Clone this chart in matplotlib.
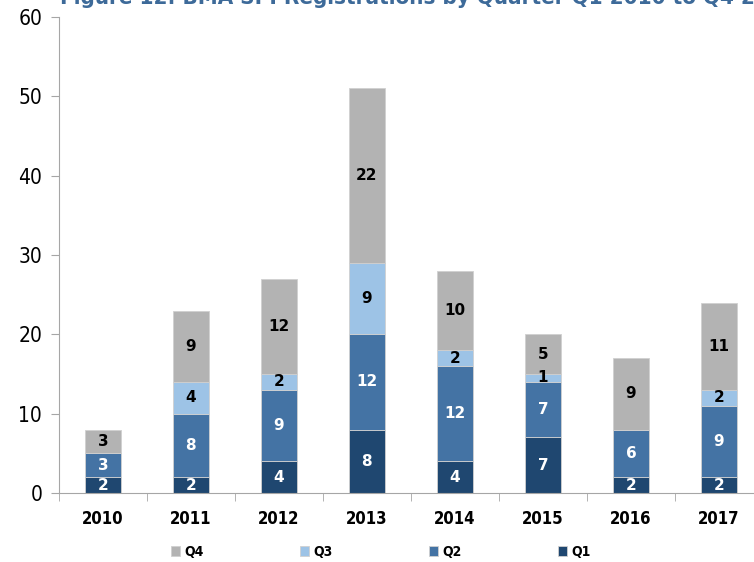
import matplotlib.pyplot as plt
import numpy as np

# Data
years = ["2010", "2011", "2012", "2013", "2014", "2015", "2016", "2017"]
q1 = [2, 2, 4, 8, 4, 7, 2, 2]
q2 = [3, 8, 9, 12, 12, 7, 6, 9]
q3 = [0, 4, 2, 9, 2, 1, 0, 2]
q4 = [3, 9, 12, 22, 10, 5, 9, 11]

series = [("Q1", q1, "#1F4770", "white"),
          ("Q2", q2, "#4473A4", "white"),
          ("Q3", q3, "#9DC3E6", "black"),
          ("Q4", q4, "#B3B3B3", "black")]

narrow = dict(family="DejaVu Sans", stretch="condensed")

fig = plt.figure(figsize=(7.54, 5.62), dpi=100)
ax = fig.add_axes([0.078, 0.1228, 0.934, 0.847])

x = np.arange(len(years))
bottom = np.zeros(len(years))
handles = {}
for name, vals, color, txt in series:
    vals = np.array(vals)
    bars = ax.bar(x, vals, 0.41, bottom=bottom, color=color,
                  edgecolor="#D0D0D0", linewidth=0.6, label=name)
    handles[name] = bars
    for xi, b, v in zip(x, bottom, vals):
        if v > 0:
            ax.text(xi, b + v / 2, str(v), ha="center", va="center",
                    color=txt, fontsize=11, fontweight="bold",
                    family="DejaVu Sans")
    bottom += vals

ax.set_xlim(-0.5, len(years) - 0.5)
ax.set_ylim(0, 60)
ax.set_yticks(range(0, 61, 10))
ax.set_yticklabels([str(v) for v in range(0, 61, 10)], fontsize=15, **narrow)
ax.set_xticks(x)
ax.set_xticklabels(years, fontsize=12, fontweight="bold", **narrow)
ax.set_xticks(np.arange(-0.5, len(years), 1.0), minor=True)
ax.tick_params(axis="x", which="major", length=0, pad=12)
ax.tick_params(axis="x", which="minor", length=6, color="#A6A6A6")
ax.tick_params(axis="y", length=6, color="#A6A6A6", pad=6)

for side in ["top", "right"]:
    ax.spines[side].set_visible(False)
for side in ["left", "bottom"]:
    ax.spines[side].set_color("#A6A6A6")

# title is clipped at the top edge, as in the source
fig.text(0.08, 1 - 4 / 562, "Figure 12: BMA SPI Registrations by Quarter Q1 2010 to Q4 2017",
         color="#3D6A99", fontsize=16, fontweight="bold", ha="left",
         va="baseline", **narrow)

order = ["Q4", "Q3", "Q2", "Q1"]
fig.legend([handles[n] for n in order], order, loc="center", ncol=4,
           bbox_to_anchor=(0.505, 0.018), frameon=False, handlelength=0.7,
           handleheight=0.7, handletextpad=0.3, columnspacing=6.9,
           prop={"family": "DejaVu Sans", "stretch": "condensed",
                 "size": 10, "weight": "bold"})

fig.savefig("out.png", dpi=100)
